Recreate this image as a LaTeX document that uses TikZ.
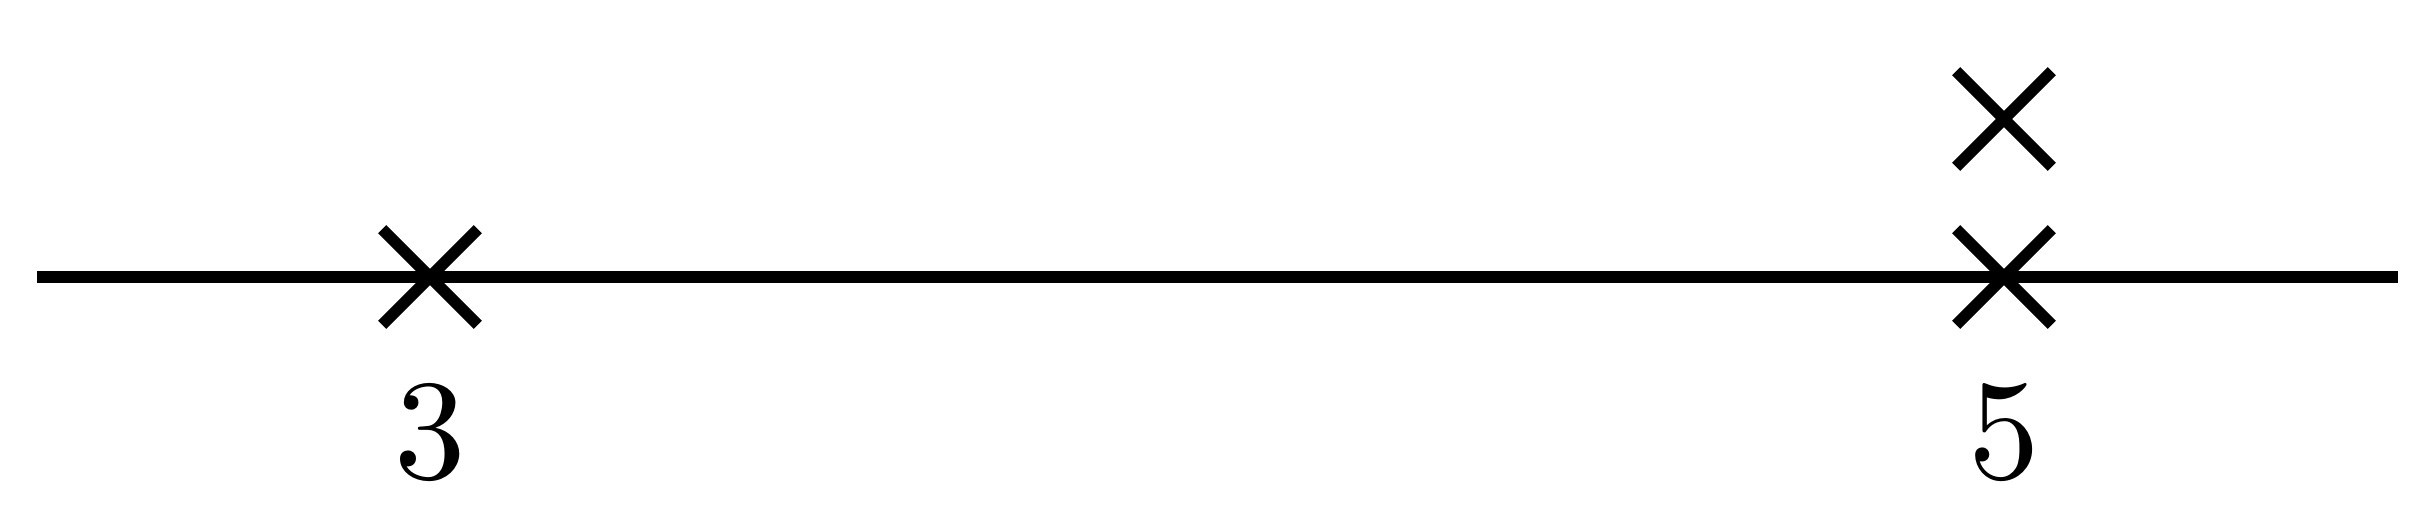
\documentclass[tikz,border=0pt]{standalone}
\usetikzlibrary{shapes.misc}
\tikzset{
  pole/.style={cross out,draw,thick,inner sep=0pt,minimum size=5.9pt},
  tag/.style={anchor=base,inner sep=0pt},
}
\begin{document}
\begin{tikzpicture}[x=0.07pt,y=0.07pt]
  \useasboundingbox (0,0) rectangle (2436,513);
  % real axis
  \coordinate (left) at (37,236);
  \coordinate (right) at (2398,236);
  \draw[thick] (left) -- (right);
  % poles
  \node[pole] (p3) at (430,236) {};
  \node[pole] (p5) at (2004,236) {};
  \node[pole] (p5b) at (2004,394) {};
  \node[tag] (t3) at (430,35) {$3$};
  \node[tag] (t5) at (2004,35) {$5$};
\end{tikzpicture}
\end{document}
